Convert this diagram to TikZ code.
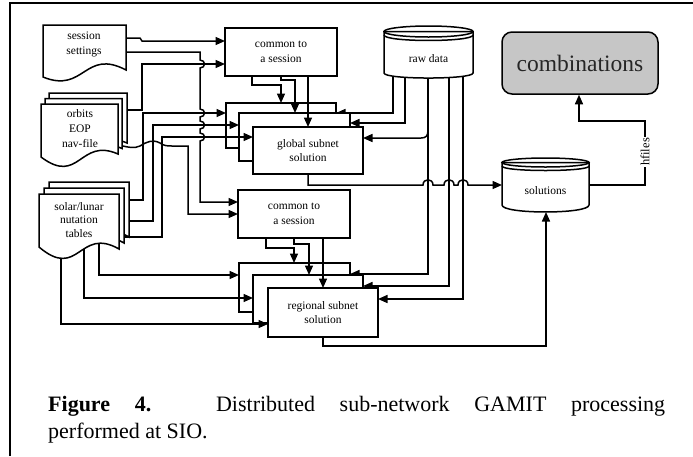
\documentclass[tikz,border=0pt]{standalone}
\usepackage{fontspec}
\setmainfont{Liberation Serif}
\usetikzlibrary{arrows.meta,calc}
\tikzset{
  ln/.style={line width=1.5pt, line join=miter},
  arr/.style={ln, -{Triangle[length=9.5pt,width=8pt]}},
  boxsty/.style={draw, line width=1.5pt, fill=white, inner sep=0pt, outer sep=0pt,
    font=\fontsize{11.5}{14.5}\selectfont, align=center},
  docsty/.style={line width=1.5pt, fill=white, line join=miter},
  txt/.style={inner sep=0pt, font=\fontsize{11.5}{14.5}\selectfont, align=center},
}
\newcommand{\docpage}[7]{%
  \pgfmathsetmacro{\dpxr}{#1+#3}%
  \pgfmathsetmacro{\dpyl}{#2+#4}%
  \pgfmathsetmacro{\dpyr}{#2+#5}%
  \pgfmathsetmacro{\dpcx}{#1+0.5*#3}%
  \pgfmathsetmacro{\dpca}{#2+#5-#7}%
  \pgfmathsetmacro{\dpcb}{#2+#4+#6}%
  \filldraw[docsty] (#1,#2) -- (\dpxr,#2) -- (\dpxr,\dpyr) .. controls (\dpcx,\dpca) and (\dpcx,\dpcb) .. (#1,\dpyl) -- cycle;%
}
\begin{document}
\begin{tikzpicture}[x=1pt,y=-1pt]
\useasboundingbox (0,0) rectangle (693,456);
\draw[line width=2.2pt] (10,456) -- (10,3) -- (693,3);

% common boxes
\node[boxsty, minimum width=112pt, minimum height=48pt] (cs1) at (281,52) {common to\\a session};
\node[boxsty, minimum width=112pt, minimum height=48pt] (cs2) at (294,214) {common to\\a session};

% global stack with raw data arrows
\node[boxsty, minimum width=110pt, minimum height=45pt] (gb) at (281,125.5) {};
\draw[arr] (393,72) -- (393,113) -- (gb.east |- 0,113);
\node[boxsty, minimum width=111pt, minimum height=48pt] (gm) at (294.5,137) {};
\draw[arr] (405,72) -- (405,123) -- (gm.east |- 0,123);
\node[boxsty, minimum width=110pt, minimum height=47pt] (gf) at (308,150.5) {global subnet\\solution};

% regional stack with raw data arrows
\node[boxsty, minimum width=111pt, minimum height=49pt] (rb) at (294.5,287.5) {};
\draw[arr] (428,72) -- (428,274) -- (rb.east |- 0,274);
\draw[arr] (428,130) .. controls (428,136) and (426,138) .. (421,138) -- (gf.east |- 0,138);
\node[boxsty, minimum width=110pt, minimum height=48pt] (rm) at (308,299) {};
\draw[arr] (449,72) -- (449,286) -- (rm.east |- 0,286);
\node[boxsty, minimum width=110pt, minimum height=49pt] (rf) at (323,312.5) {regional subnet\\solution};
\draw[arr] (463,72) -- (463,299) -- (rf.east |- 0,299);

% raw data cylinder
\filldraw[docsty] (384,31.5) -- (384,73) .. controls (384,79.7) and (473,79.7) .. (473,73) -- (473,31.5) -- cycle;
\draw[ln] (428.5,31.5) ellipse [x radius=44.5pt, y radius=5.5pt];
\draw[ln] (384,35) .. controls (384,42.3) and (473,42.3) .. (473,35);
\node[txt] (raw) at (428.5,59) {raw data};

% solutions cylinder
\filldraw[docsty] (502,162.5) -- (502,205) .. controls (502,214.3) and (589,214.3) .. (589,205) -- (589,162.5) -- cycle;
\draw[ln] (545.5,162.5) ellipse [x radius=43.5pt, y radius=4.5pt];
\draw[ln] (502,166) .. controls (502,172) and (589,172) .. (589,166);
\node[txt] (sol) at (545.5,191) {solutions};
\coordinate (solW) at (502,185);
\coordinate (solS) at (546,212);
\coordinate (solE) at (589,185);

% combinations
\node[draw, line width=1.5pt, rounded corners=10pt, fill=gray!45, minimum width=156pt,
  minimum height=62pt, inner sep=0pt, text=black!85, font=\fontsize{23.5}{23.5}\selectfont] (comb) at (580,63) {combinations};

% common-box arrows
\draw[arr] (252,76) -- (252,85) -- (281,85) -- (gb.north -| 281,0);
\draw[arr] (281,76) -- (281,80) -- (295,80) -- (gm.north -| 295,0);
\draw[arr] (308,76) -- (gf.north);
\draw[arr] (266,238) -- (266,248) -- (294,248) -- (rb.north -| 294,0);
\draw[arr] (294,238) -- (294,244) -- (309,244) -- (rm.north -| 309,0);
\draw[arr] (323,238) -- (rf.north);

% session settings lines
\draw[arr] (120,38) -- (140,38) -- (142,41) -- (cs1.west |- 0,41);
\draw[arr] (120,52) -- (200,52) -- (200,60) .. controls (206,60) and (206,68) .. (200,68)
  -- (200,109) .. controls (206,109) and (206,117) .. (200,117)
  -- (200,121) .. controls (206,121) and (206,129) .. (200,129)
  -- (200,133) .. controls (206,133) and (206,141) .. (200,141)
  -- (200,202) -- (cs2.west |- 0,202);

% orbits lines
\draw[arr] (122,110) -- (142,110) -- (142,64) -- (cs1.west |- 0,64);
\draw[arr] (118,145) .. controls (128,147) and (134,149) .. (140,146) .. controls (146,142) and (153,139) .. (160,143)
  .. controls (164,146) and (168,146) .. (172,146) -- (188,146) -- (188,214) -- (cs2.west |- 0,214);

% solar/lunar lines
\draw[arr] (125,200) -- (143,200) -- (143,113) -- (gb.west |- 0,113);
\draw[arr] (125,221) -- (153,221) -- (153,125) -- (gm.west |- 0,125);
\draw[arr] (125,237) -- (162,237) -- (162,137) -- (gf.west |- 0,137);
\draw[arr] (99,240) -- (99,275) -- (rb.west |- 0,275);
\draw[arr] (84,240) -- (84,298) -- (rm.west |- 0,298);
\draw[arr] (61,240) -- (61,324) -- (rf.west |- 0,324);

% outputs
\draw[arr] (gf.south) -- (308,185) -- (423,185) .. controls (423,178) and (433,178) .. (433,185)
  -- (444,185) .. controls (444,178) and (454,178) .. (454,185)
  -- (458,185) .. controls (458,178) and (468,178) .. (468,185) -- (solW);
\draw[arr] (rf.south) -- (323,346) -- (546,346) -- (solS);
\draw[arr] (solE) -- (645,185) -- (645,121) -- (579,121) -- (comb.south -| 579,0);
\node[rotate=90, fill=white, inner sep=1.5pt, font=\fontsize{12.5}{12.5}\selectfont] (hf) at (645,152) {hfiles};

% documents
\docpage{43}{25}{83}{52}{45}{17}{22}
\node[txt] (ss) at (84,44.5) {session\\settings};
\docpage{49}{93}{78}{53}{50}{29}{17}
\docpage{45}{98.5}{77}{53}{50}{29}{17}
\docpage{41}{104}{77}{53}{50}{29}{17}
\node[txt, font=\fontsize{11.5}{15}\selectfont] (orb) at (80,129) {orbits\\EOP\\nav-file};
\docpage{49}{182}{80}{53}{55}{34}{23}
\docpage{44}{188}{80}{53}{55}{34}{23}
\docpage{39}{194}{80}{53}{55}{34}{23}
\node[txt, font=\fontsize{11.5}{13.5}\selectfont] (sl) at (79,220) {solar/lunar\\nutation\\tables};

% caption
\node[anchor=north west, inner sep=0pt, text width=617pt, align=justify,
  font=\fontsize{22}{27}\selectfont] (cap) at (48,396)
  {\textbf{Figure 4.} Distributed sub-network GAMIT processing\linebreak performed at SIO.};
\end{tikzpicture}
\end{document}
